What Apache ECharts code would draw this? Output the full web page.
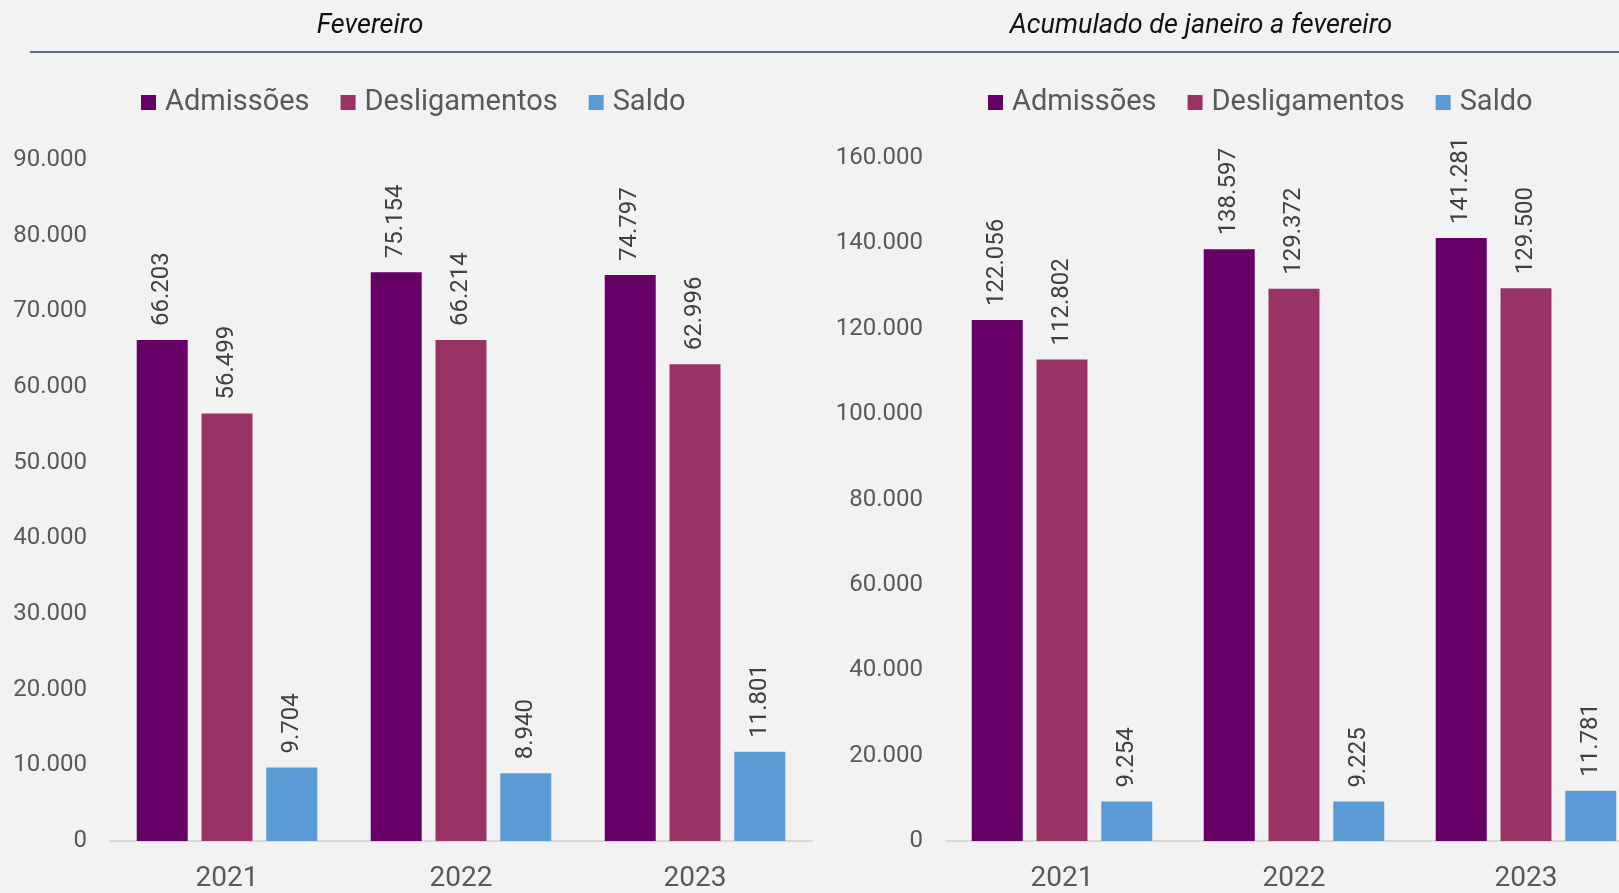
<!DOCTYPE html>
<html>
<head>
<meta charset="utf-8">
<script src="https://cdn.jsdelivr.net/npm/echarts@6/dist/echarts.min.js"></script>
<style>
html,body{margin:0;padding:0;background:#f2f2f2;overflow:hidden;width:1619px;height:893px;}
#chart{width:1680px;height:893px;}
</style>
</head>
<body>
<div id="chart"></div>
<script>
const categories = ['2021', '2022', '2023'];
const seriesNames = ['Admissões', 'Desligamentos', 'Saldo'];
const febAdmissoes = [66203, 75154, 74797];
const febDesligamentos = [56499, 66214, 62996];
const febSaldo = [9704, 8940, 11801];
const accAdmissoes = [122056, 138597, 141281];
const accDesligamentos = [112802, 129372, 129500];
const accSaldo = [9254, 9225, 11781];
const titles = ['Fevereiro', 'Acumulado de janeiro a fevereiro'];

const colors = ['#660066', '#993366', '#5b9bd5'];
const FONT = 'Roboto, "Noto Sans", sans-serif';
const fmt = v => String(v).replace(/\B(?=(\d{3})+(?!\d))/g, '.');

function bar(name, data, idx, color) {
  return {
    name: name, type: 'bar', xAxisIndex: idx, yAxisIndex: idx, data: data,
    barWidth: 51, barGap: '27%',
    itemStyle: { color: color },
    label: {
      show: true, position: 'top', rotate: 90, align: 'left', verticalAlign: 'middle',
      distance: 14, fontFamily: FONT, fontSize: 24, color: '#404040',
      formatter: p => fmt(p.value)
    }
  };
}

function legend(left) {
  return {
    left: left, top: 88, padding: 0, icon: 'rect', itemWidth: 15, itemHeight: 15, itemGap: 31,
    data: seriesNames,
    textStyle: { fontFamily: FONT, fontSize: 29, color: '#595959', padding: [0, 0, 0, 4] }
  };
}

function xAxis(idx) {
  return {
    type: 'category', gridIndex: idx, data: categories,
    axisLine: { lineStyle: { color: '#d9d9d9', width: 2 } },
    axisTick: { show: false },
    axisLabel: { fontFamily: FONT, fontSize: 28, color: '#595959', margin: 24 }
  };
}

function yAxis(idx, max, interval) {
  return {
    type: 'value', gridIndex: idx, min: 0, max: max, interval: interval,
    axisLine: { show: false }, axisTick: { show: false }, splitLine: { show: false },
    axisLabel: { fontFamily: FONT, fontSize: 24, color: '#595959', margin: 23, formatter: v => fmt(v) }
  };
}

const chart = echarts.init(document.getElementById('chart'));
chart.setOption({
  backgroundColor: '#f2f2f2',
  animation: false,
  color: colors,
  title: [
    { text: titles[0], left: 370, top: 13, textAlign: 'center', padding: 0,
      textStyle: { fontFamily: FONT, fontSize: 27, fontStyle: 'italic', fontWeight: 'normal', color: '#111' } },
    { text: titles[1], left: 1201, top: 13, textAlign: 'center', padding: 0,
      textStyle: { fontFamily: FONT, fontSize: 27, fontStyle: 'italic', fontWeight: 'normal', color: '#111' } }
  ],
  graphic: [
    { type: 'line', shape: { x1: 30, y1: 52, x2: 1680, y2: 52 }, style: { stroke: '#5a6a85', lineWidth: 2 } }
  ],
  legend: [legend(141), legend(988)],
  grid: [
    { left: 110, width: 702, top: 160, bottom: 48, containLabel: false },
    { left: 946, width: 696, top: 158, bottom: 52, containLabel: false }
  ],
  xAxis: [xAxis(0), xAxis(1)],
  yAxis: [yAxis(0, 90000, 10000), yAxis(1, 160000, 20000)],
  series: [
    bar(seriesNames[0], febAdmissoes, 0, colors[0]),
    bar(seriesNames[1], febDesligamentos, 0, colors[1]),
    bar(seriesNames[2], febSaldo, 0, colors[2]),
    bar(seriesNames[0], accAdmissoes, 1, colors[0]),
    bar(seriesNames[1], accDesligamentos, 1, colors[1]),
    bar(seriesNames[2], accSaldo, 1, colors[2])
  ]
});
</script>
</body>
</html>
